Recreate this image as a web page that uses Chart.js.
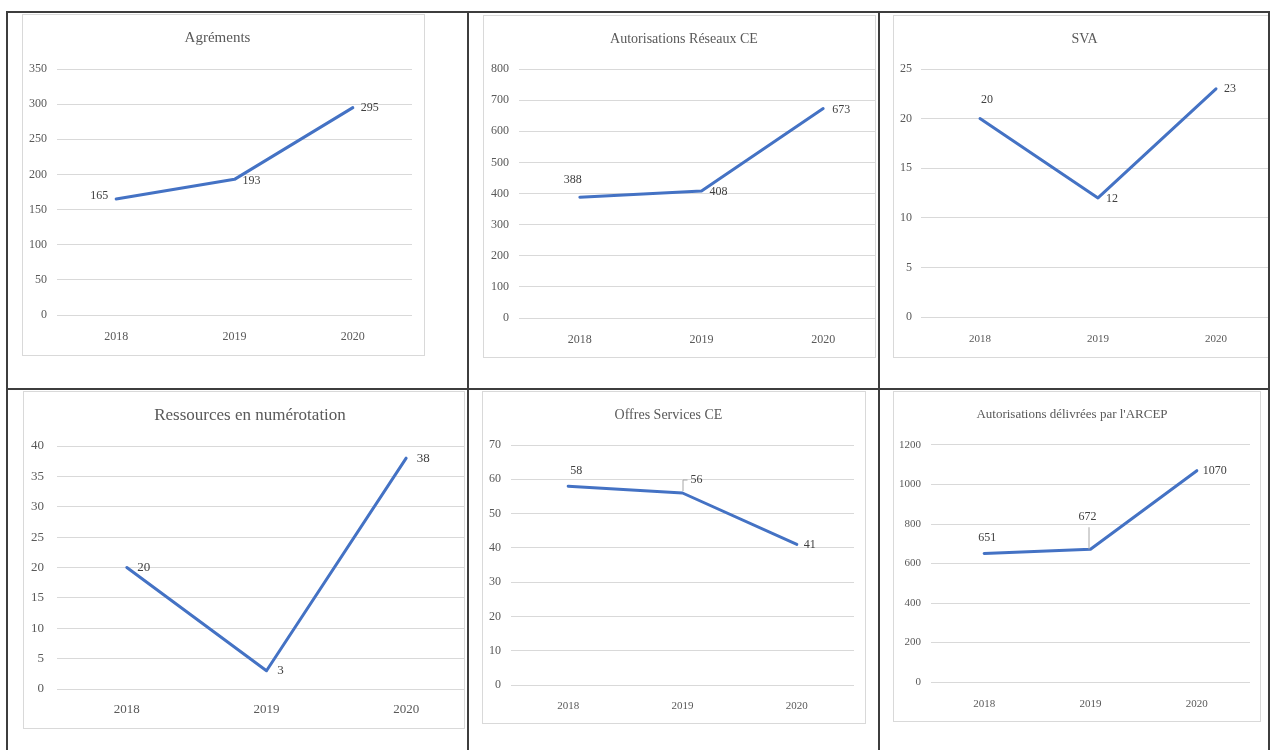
<!DOCTYPE html>
<html>
<head>
<meta charset="utf-8">
<script src="https://cdn.jsdelivr.net/npm/chart.js@4.4.1/dist/chart.umd.min.js"></script>
<style>
  body { margin: 0; width: 1272px; height: 750px; position: relative; overflow: hidden; background: #fff; }
  .rule { position: absolute; background: #3d3d3d; z-index: 5; }
  .frame { position: absolute; box-sizing: border-box; border: 1px solid #d9d9d9; overflow: hidden; background: #fff; }
  .frame canvas { position: absolute; left: 0; top: 0; }
</style>
</head>
<body>
<div class="rule" style="left:6px;top:11px;width:1264px;height:2px"></div>
<div class="rule" style="left:6px;top:388px;width:1264px;height:2px"></div>
<div class="rule" style="left:6px;top:11px;width:2px;height:740px"></div>
<div class="rule" style="left:467px;top:11px;width:2px;height:740px"></div>
<div class="rule" style="left:878px;top:11px;width:2px;height:740px"></div>
<div class="rule" style="left:1268px;top:11px;width:2px;height:740px"></div>

<script>
// data
const years = ['2018', '2019', '2020']
const agrements = [165, 193, 295]
const reseauxCE = [388, 408, 673]
const sva = [20, 12, 23]
const numerotation = [20, 3, 38]
const offresCE = [58, 56, 41]
const arcep = [651, 672, 1070]

const titles = [
  'Agréments',
  'Autorisations Réseaux CE',
  'SVA',
  'Ressources en numérotation',
  'Offres Services CE',
  "Autorisations délivrées par l'ARCEP"
]
const series = [agrements, reseauxCE, sva, numerotation, offresCE, arcep]
const yMax = [350, 800, 25, 40, 70, 1200]
const yStep = [50, 100, 5, 5, 10, 200]

// layout / style per panel (frame box, plot area, fonts, label offsets)
const panels = [
  { frame: [22, 14, 425, 356], area: [57, 69, 412, 315], titleY: 38, titleSize: 15, tick: 12, xtick: 12, yPad: 10, xPad: 7, label: 12,
    offsets: [[-17, -3], [17, 1], [17, 0]] },
  { frame: [483, 15, 876, 358], area: [519, 69, 884, 318], titleY: 39, titleSize: 14, tick: 12, xtick: 12, yPad: 10, xPad: 7, label: 12,
    offsets: [[-7, -17], [17, 1], [18, 1]] },
  { frame: [893, 15, 1269, 358], area: [921, 69, 1275, 317], titleY: 39, titleSize: 14, tick: 12, xtick: 11, yPad: 9, xPad: 8, label: 12,
    offsets: [[7, -19], [14, 1], [14, 0]] },
  { frame: [23, 391, 465, 729], area: [57, 446, 476, 689], titleY: 416, titleSize: 17, tick: 13, xtick: 13, yPad: 13, xPad: 5, label: 13,
    offsets: [[17, 0], [14, 0], [17, 0]] },
  { frame: [482, 391, 866, 724], area: [511, 445, 854, 685], titleY: 415, titleSize: 14, tick: 12, xtick: 11, yPad: 10, xPad: 7, label: 12,
    offsets: [[8, -15], [14, -13], [13, 0]], leader: 1 },
  { frame: [893, 391, 1261, 722], area: [931, 445, 1250, 682], titleY: 415, titleSize: 13, tick: 11, xtick: 11, yPad: 10, xPad: 8, label: 12,
    offsets: [[3, -16], [-3, -32], [18, 0]], leader: 1 }
]

Chart.defaults.font.family = "'Liberation Serif', 'DejaVu Serif', serif"
Chart.defaults.color = '#595959'

const valueLabels = {
  id: 'valueLabels',
  afterDatasetsDraw(chart, args, opts) {
    const ctx = chart.ctx
    const meta = chart.getDatasetMeta(0)
    const values = chart.data.datasets[0].data
    ctx.save()
    ctx.font = opts.size + "px 'Liberation Serif', serif"
    ctx.fillStyle = '#404040'
    ctx.textAlign = 'center'
    ctx.textBaseline = 'middle'
    meta.data.forEach((pt, i) => {
      const [dx, dy] = opts.offsets[i]
      if (opts.leader === i) {
        ctx.strokeStyle = '#a6a6a6'
        ctx.lineWidth = 1
        ctx.beginPath()
        if (dx > 0) {
          ctx.moveTo(pt.x + 0.5, pt.y - 2)
          ctx.lineTo(pt.x + 0.5, pt.y + dy)
          ctx.lineTo(pt.x + 5, pt.y + dy)
        } else {
          ctx.moveTo(pt.x - 1.5, pt.y)
          ctx.lineTo(pt.x - 1.5, pt.y + dy + 10)
        }
        ctx.stroke()
      }
      ctx.fillText(values[i], pt.x + dx, pt.y + dy)
    })
    ctx.restore()
  }
}

panels.forEach((p, idx) => {
  const [fL, fT, fR, fB] = p.frame
  const [aL, aT, aR, aB] = p.area
  const ox = fL + 1, oy = fT + 1
  const padR = Math.max(0, fR - 1 - aR)
  const w = aR - ox + padR
  const h = fB - fT - 2
  const yw = aL - ox
  const xh = fB - 1 - aB
  const tTop = p.titleY - oy - 0.6 * p.titleSize
  const tBottom = (aT - oy) - tTop - 1.2 * p.titleSize

  const frame = document.createElement('div')
  frame.className = 'frame'
  frame.style.left = fL + 'px'
  frame.style.top = fT + 'px'
  frame.style.width = (fR - fL) + 'px'
  frame.style.height = (fB - fT) + 'px'
  const canvas = document.createElement('canvas')
  canvas.width = w
  canvas.height = h
  canvas.style.width = w + 'px'
  canvas.style.height = h + 'px'
  frame.appendChild(canvas)
  document.body.appendChild(frame)

  new Chart(canvas.getContext('2d'), {
    type: 'line',
    data: {
      labels: years,
      datasets: [{
        data: series[idx],
        borderColor: '#4472C4',
        borderWidth: 3,
        borderCapStyle: 'round',
        borderJoinStyle: 'round',
        pointRadius: 0,
        tension: 0,
        fill: false
      }]
    },
    options: {
      responsive: false,
      animation: false,
      devicePixelRatio: 1,
      layout: { padding: { left: 0, top: 0, right: padR, bottom: 0 } },
      plugins: {
        legend: { display: false },
        tooltip: { enabled: false },
        title: {
          display: true,
          text: titles[idx],
          color: '#595959',
          font: { size: p.titleSize, weight: 'normal' },
          padding: { top: tTop, bottom: tBottom }
        },
        valueLabels: { size: p.label, offsets: p.offsets, leader: p.leader }
      },
      scales: {
        x: {
          offset: true,
          grid: { display: false },
          border: { display: false },
          ticks: { font: { size: p.xtick }, color: '#595959', padding: p.xPad, maxRotation: 0 },
          afterFit(scale) { scale.height = xh }
        },
        y: {
          min: 0,
          max: yMax[idx],
          grid: { color: '#d9d9d9', drawTicks: false },
          border: { display: false },
          ticks: {
            stepSize: yStep[idx],
            font: { size: p.tick },
            color: '#595959',
            padding: p.yPad,
            callback: value => String(value)
          },
          afterFit(scale) { scale.width = yw }
        }
      }
    },
    plugins: [valueLabels]
  })
})
</script>
</body>
</html>
